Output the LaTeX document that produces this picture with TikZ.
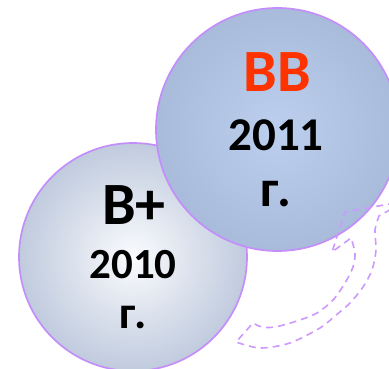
\documentclass[tikz,border=0pt]{standalone}
\usepackage{fontspec}
\setmainfont{Carlito}
\definecolor{rim}{RGB}{196,142,250}
\definecolor{dashc}{RGB}{204,153,255}
\definecolor{bbred}{RGB}{255,51,0}
\definecolor{rin}{RGB}{188,207,238}
\definecolor{rout}{RGB}{169,187,219}
\definecolor{lin}{RGB}{250,251,253}
\definecolor{lout}{RGB}{192,203,222}
\tikzset{
  ball/.style={circle, draw=rim, line width=1.7pt, inner sep=0pt},
  lbl/.style={anchor=base, inner sep=0pt, font=\bfseries},
  dashrim/.style={draw=dashc, line width=1.6pt, dash pattern=on 7pt off 5pt, line join=round}
}
\begin{document}
\begin{tikzpicture}[x=1pt,y=-1pt]
\useasboundingbox (0,0) rectangle (389,369);
\clip (0,0) rectangle (389,369);
\node[ball, minimum size=228pt, inner color=lin, outer color=lout] (left) at (133,257) {};
\node[ball, minimum size=243pt, inner color=rin, outer color=rout] (right) at (277.5,129.5) {};
% text right
\node[lbl, text=bbred, font=\bfseries\fontsize{60}{60}\selectfont] (bb) at (277,92) {ВВ};
\node[lbl, font=\bfseries\fontsize{47}{47}\selectfont] (y2011) at (276,150) {2011};
\node[lbl, font=\bfseries\fontsize{52}{52}\selectfont] (g2) at (276,207) {г.};
% text left
\node[lbl, font=\bfseries\fontsize{60}{60}\selectfont] (bplus) at (134,225) {В+};
\node[lbl, font=\bfseries\fontsize{43}{43}\selectfont] (y2010) at (133,278) {2010};
\node[lbl, font=\bfseries\fontsize{46}{46}\selectfont] (g1) at (133,328) {г.};
% dashed curved band
\draw[dashrim] (395,203) -- (345,212) -- (332,252) -- (351,238)
  -- plot[smooth] coordinates {(351,238) (355,253) (353,267) (345,283) (333,300) (317,313) (297,321) (275,327) (262,327) (253,323)}
  -- (236,342)
  -- plot[smooth] coordinates {(236,342) (260,348) (290,343) (320,328) (335,316) (350,303) (363,287) (372,270) (376,250) (375,230) (379,216)}
  -- (395,207);
\end{tikzpicture}
\end{document}
